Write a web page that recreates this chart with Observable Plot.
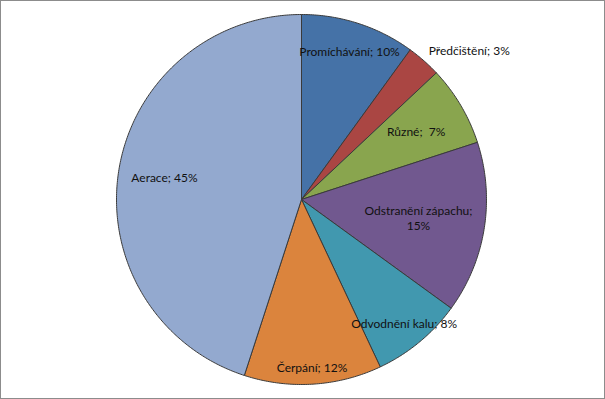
<!DOCTYPE html>
<html><head><meta charset="utf-8">
<script src="https://cdn.jsdelivr.net/npm/d3@7"></script>
<script src="https://cdn.jsdelivr.net/npm/@observablehq/plot@0.6"></script>
<style>
html,body{margin:0;padding:0;background:#fff;}
#chart{width:603px;height:397px;border:1px solid #8c8c8c;overflow:hidden;}
</style>
</head><body><div id="chart"></div>
<script>
const categories = ["Promíchávání", "Předčištění", "Různé", "Odstranění zápachu", "Odvodnění kalu", "Čerpání", "Aerace"];
const values = [10, 3, 7, 15, 8, 12, 45];
const colors = ["#4572A7", "#AA4643", "#89A54E", "#71588F", "#4198AF", "#DB843D", "#93A9CF"];
const labels = ["Promíchávání; 10%", "Předčištění; 3%", "Různé;  7%", "Odstranění zápachu;\n15%", "Odvodnění kalu; 8%", "Čerpání; 12%", "Aerace; 45%"];

const W = 603, H = 397, cx = 300, cy = 198, R = 185;
const total = d3.sum(values);
const pie = d3.pie().sort(null).value(d => d)(values);

// slice polygons in unit-circle coordinates (y up)
const pts = [];
pie.forEach((p, i) => {
  const n = Math.max(2, Math.ceil((p.endAngle - p.startAngle) / 0.01));
  pts.push({k: i, x: 0, y: 0});
  for (let j = 0; j <= n; j++) {
    const a = p.startAngle + (p.endAngle - p.startAngle) * j / n;
    pts.push({k: i, x: Math.sin(a), y: Math.cos(a)});
  }
  pts.push({k: i, x: 0, y: 0});
});

// label placement (best-fit style radii)
const rf = [0.84, 1.04, 0.72, 0.64, 0.87, 0.91, 0.75];
const lab = pie.map((p, i) => {
  const a = (p.startAngle + p.endAngle) / 2;
  return {t: labels[i], x: rf[i] * Math.sin(a), y: rf[i] * Math.cos(a), anchor: rf[i] > 1 ? "start" : "middle"};
});

const chart = Plot.plot({
  width: W, height: H,
  margin: 0,
  x: {domain: [-cx / R, (W - cx) / R], range: [0, W], axis: null},
  y: {domain: [cy / R, -(H - cy) / R], range: [0, H], axis: null},
  style: {fontFamily: "Lato, 'Open Sans', sans-serif", background: "white"},
  marks: [
    Plot.line(pts, {x: "x", y: "y", z: "k", fill: d => colors[d.k], stroke: "#3a3a3a", strokeWidth: 1, curve: "linear", strokeLinejoin: "round"}),
    Plot.text(lab.filter(d => d.anchor === "middle"), {x: "x", y: "y", text: "t", fontSize: 12, fill: "#111", textAnchor: "middle", lineHeight: 1.2}),
    Plot.text(lab.filter(d => d.anchor === "start"), {x: "x", y: "y", text: "t", fontSize: 12, fill: "#111", textAnchor: "start", dy: -4})
  ]
});
document.getElementById("chart").appendChild(chart);
</script>
</body></html>
